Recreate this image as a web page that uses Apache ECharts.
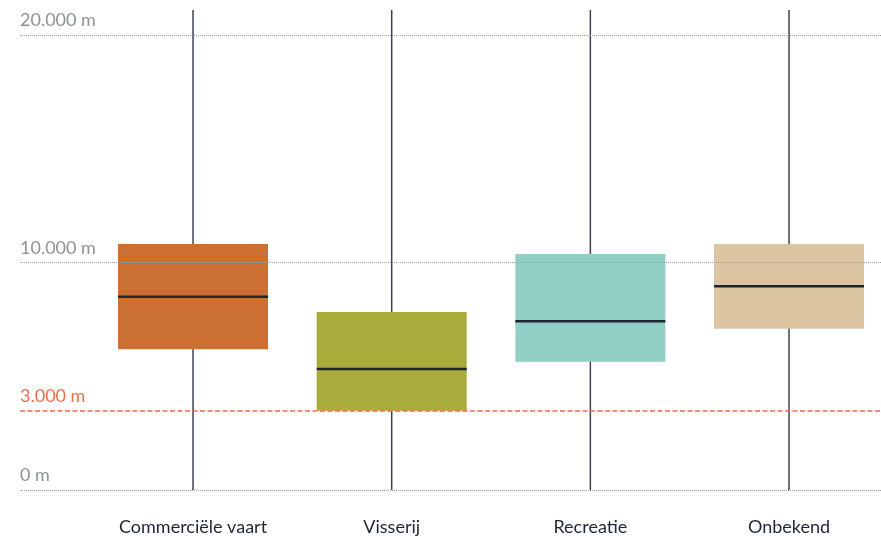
<!DOCTYPE html>
<html>
<head>
<meta charset="utf-8">
<script src="https://cdn.jsdelivr.net/npm/echarts@6/dist/echarts.min.js"></script>
<style>html,body{margin:0;padding:0;background:#fff}#chart{width:881px;height:538px}</style>
</head>
<body>
<div id="chart"></div>
<script>
const categories = ['Commerciële vaart', 'Visserij', 'Recreatie', 'Onbekend'];
const categoryIndex = [0, 1, 2, 3];
const whiskerLow = [0, 0, 0, 0];
const q1 = [6190, 3490, 5645, 7100];
const median = [8505, 5325, 7425, 8965];
const q3 = [10825, 7830, 10385, 10825];
const whiskerHigh = [21120, 21120, 21120, 21120];
const gridValues = [0, 10000, 20000];
const gridLabels = ['0 m', '10.000 m', '20.000 m'];
const thresholdValue = 3480;
const thresholdLabel = '3.000 m';
const axisMax = 21120;

const boxColors = ['#cc6f32', '#a8ac3a', '#91cec3', '#dbc4a0'];
const FONT = 'Lato, "Open Sans", sans-serif';
const ORANGE = '#ee6e4c';

const chart = echarts.init(document.getElementById('chart'));

const boxData = categoryIndex.map((c, i) => [c, whiskerLow[i], q1[i], median[i], q3[i], whiskerHigh[i]]);

const gridLineData = gridValues.map((v, i) => ({
  yAxis: v,
  label: { formatter: gridLabels[i] }
}));

chart.setOption({
  animation: false,
  color: [ORANGE],
  grid: [
    { left: 20, right: 0, top: 10, bottom: 48 }
  ],
  xAxis: [
    {
      type: 'value', min: -0.871, max: 3.463,
      axisLine: { show: false }, axisTick: { show: false }, splitLine: { show: false },
      axisLabel: {
        customValues: categoryIndex,
        formatter: v => categories[Math.round(v)],
        color: '#1f2633', fontSize: 18, fontFamily: FONT, margin: 28
      }
    }
  ],
  yAxis: [
    { type: 'value', min: 0, max: axisMax, show: false }
  ],
  series: [
    {
      type: 'line', data: [], silent: true,
      markLine: {
        symbol: 'none', silent: true,
        lineStyle: { color: '#9aa0a0', type: 'dotted', width: 1 },
        label: {
          position: 'insideStartTop', distance: [0, 6],
          color: '#8c9593', fontSize: 18, fontFamily: FONT
        },
        emphasis: { disabled: true },
        data: gridLineData
      }
    },
    {
      type: 'custom', z: 3,
      data: boxData,
      renderItem: function (params, api) {
        const i = api.value(0);
        const x = api.coord([i, 0])[0];
        const band = api.size([1, 0])[0];
        const w = band * 0.755;
        const yLo = api.coord([i, api.value(1)])[1];
        const yQ1 = api.coord([i, api.value(2)])[1];
        const yMed = api.coord([i, api.value(3)])[1];
        const yQ3 = api.coord([i, api.value(4)])[1];
        const yHi = api.coord([i, api.value(5)])[1];
        return {
          type: 'group',
          children: [
            { type: 'line', shape: { x1: x, y1: yHi, x2: x, y2: yLo }, style: { stroke: '#3b4252', lineWidth: 1.5 } },
            { type: 'rect', shape: { x: x - w / 2, y: yQ3, width: w, height: yQ1 - yQ3 }, style: { fill: boxColors[params.dataIndex] } },
            { type: 'line', shape: { x1: x - w / 2, y1: yMed, x2: x + w / 2, y2: yMed }, style: { stroke: '#1f2633', lineWidth: 2.5 } }
          ]
        };
      }
    },
    {
      type: 'custom', z: 10, silent: true,
      data: [[0, thresholdValue]],
      renderItem: function (params, api) {
        const cs = params.coordSys;
        const y = api.coord([0, api.value(1)])[1];
        return {
          type: 'group',
          children: [
            { type: 'line', shape: { x1: cs.x, y1: y, x2: cs.x + cs.width, y2: y },
              style: { stroke: ORANGE, lineWidth: 1.5, lineDash: [5, 2.5] } },
            { type: 'text', x: cs.x, y: y - 6,
              style: { text: thresholdLabel, fill: ORANGE, font: '18px ' + FONT, align: 'left', verticalAlign: 'bottom' } }
          ]
        };
      }
    }
  ]
});
</script>
</body>
</html>
